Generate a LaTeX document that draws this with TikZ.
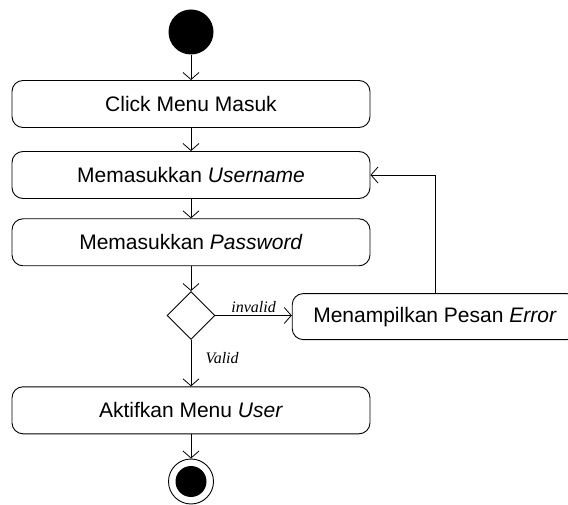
\documentclass[tikz,border=0pt]{standalone}
\usepackage{fontspec}
\setmainfont{Liberation Sans}
\newfontfamily\lblfont{Liberation Serif}
\usetikzlibrary{arrows.meta,shapes.geometric}
\begin{document}
\begin{tikzpicture}[x=1pt,y=-1pt,
  act/.style={draw, rounded corners=11pt, minimum width=358pt, minimum height=47pt, inner sep=0pt, line width=0.9pt, font=\fontsize{21}{25}\selectfont},
  flow/.style={-{Straight Barb[length=7pt,width=16pt]}, line width=0.8pt},
  lbl/.style={font=\lblfont\itshape\fontsize{16}{19}\selectfont}]
\useasboundingbox (0,0) rectangle (568,505);
\clip (0,0) rectangle (568,505);
\node[circle, fill=black, minimum size=45pt, inner sep=0pt] (start) at (191,32) {};
\node[act] (b1) at (191,104) {Click Menu Masuk};
\node[act] (b2) at (191,175) {Memasukkan \textit{Username}};
\node[act] (b3) at (191,242.3) {Memasukkan \textit{Password}};
\node[diamond, draw, line width=0.9pt, aspect=1, minimum width=48pt, minimum height=48pt, inner sep=0pt] (dec) at (191,315.5) {};
\node[act, minimum width=285.5pt, minimum height=46pt] (err) at (435,316.6) {Menampilkan Pesan \textit{Error}};
\node[act] (b4) at (191,410.3) {Aktifkan Menu \textit{User}};
\node[circle, draw, line width=0.9pt, minimum size=45pt, inner sep=0pt] (end) at (191,481.5) {};
\node[circle, fill=black, minimum size=31pt, inner sep=0pt] (endin) at (end.center) {};
\draw[flow] (start) -- (b1);
\draw[flow] (b1) -- (b2);
\draw[flow] (b2) -- (b3);
\draw[flow] (b3) -- (dec);
\draw[flow] (dec.east) -- node[lbl, above, yshift=-1pt] {invalid} (dec.east -| err.west);
\draw[flow] (dec) -- node[lbl, anchor=west, pos=0.38, xshift=11pt] {Valid} (b4);
\draw[flow] (b4) -- (end);
\draw[flow] (err.north) |- (b2.east);
\end{tikzpicture}
\end{document}
